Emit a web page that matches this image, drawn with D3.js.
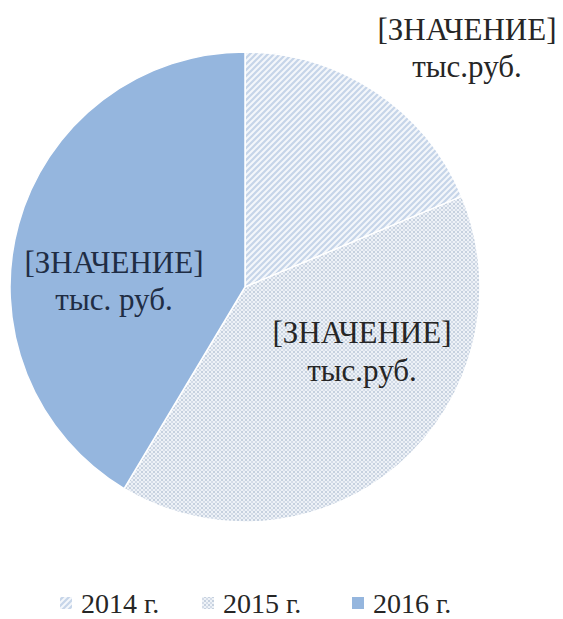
<!DOCTYPE html>
<html>
<head>
<meta charset="utf-8">
<script src="https://cdn.jsdelivr.net/npm/d3@7"></script>
</head>
<body style="margin:0">
<svg id="chart" width="563" height="619"></svg>
<script>
// Revenue by year (share of the total, %)
const years = ["2014 г.", "2015 г.", "2016 г."];
const shares = [18.7, 39.9, 41.4];
const labelLine1 = ["[ЗНАЧЕНИЕ]", "[ЗНАЧЕНИЕ]", "[ЗНАЧЕНИЕ]"];
const labelLine2 = ["тыс.руб.", "тыс.руб.", "тыс. руб."];

const FONT = '"Times New Roman", Tinos, "Liberation Serif", serif';
const svg = d3.select("#chart");
const cx = 245, cy = 287, R = 235;

// fills: diagonal hatch, dotted grid, solid
const defs = svg.append("defs");
const hatch = defs.append("pattern")
  .attr("id", "fill-hatch").attr("patternUnits", "userSpaceOnUse")
  .attr("width", 6).attr("height", 6);
hatch.append("rect").attr("width", 6).attr("height", 6).attr("fill", "#f4f7fb");
hatch.append("path").attr("d", "M-1,1 l2,-2 M0,6 l6,-6 M5,7 l2,-2")
  .attr("stroke", "#c6d5e9").attr("stroke-width", 2.2);

const dots = defs.append("pattern")
  .attr("id", "fill-dots").attr("patternUnits", "userSpaceOnUse")
  .attr("width", 4).attr("height", 4);
dots.append("rect").attr("width", 4).attr("height", 4).attr("fill", "#eef2f7");
dots.append("rect").attr("x", 0).attr("y", 0).attr("width", 2).attr("height", 2).attr("fill", "#c6d1df");
dots.append("rect").attr("x", 2).attr("y", 2).attr("width", 2).attr("height", 2).attr("fill", "#d4dce8");

const fills = ["url(#fill-hatch)", "url(#fill-dots)", "#95b6de"];

const pie = d3.pie().sort(null).value(d => d);
const arc = d3.arc().innerRadius(0).outerRadius(R);
const arcs = pie(shares);

const g = svg.append("g").attr("transform", `translate(${cx},${cy})`);
g.selectAll("path.slice")
  .data(arcs)
  .join("path")
  .attr("class", "slice")
  .attr("d", arc)
  .attr("fill", (d, i) => fills[i])
  .attr("stroke", "#fff")
  .attr("stroke-width", 1.5);

// data labels
const labelPos = [
  { x: 467, y1: 40, y2: 77 },
  { x: 362, y1: 343, y2: 381 },
  { x: 114, y1: 273, y2: 310 }
];
const labelColor = ["#262626", "#262626", "#1f2d44"];
arcs.forEach((a, i) => {
  const p = labelPos[i];
  [[labelLine1[i], p.y1], [labelLine2[i], p.y2]].forEach(([t, y]) => {
    svg.append("text")
      .attr("x", p.x).attr("y", y)
      .attr("text-anchor", "middle")
      .attr("font-family", FONT)
      .style("font-family", FONT)
      .attr("font-size", 31)
      .attr("fill", labelColor[i])
      .text(t);
  });
});

// legend
const legendX = [60, 202, 352];
years.forEach((name, i) => {
  svg.append("rect")
    .attr("x", legendX[i]).attr("y", 597).attr("width", 12).attr("height", 12)
    .attr("fill", fills[i]);
  svg.append("text")
    .attr("x", legendX[i] + 21).attr("y", 613)
    .attr("font-family", FONT)
    .style("font-family", FONT)
    .attr("font-size", 28)
    .attr("fill", "#262626")
    .text(name);
});
</script>
</body>
</html>
